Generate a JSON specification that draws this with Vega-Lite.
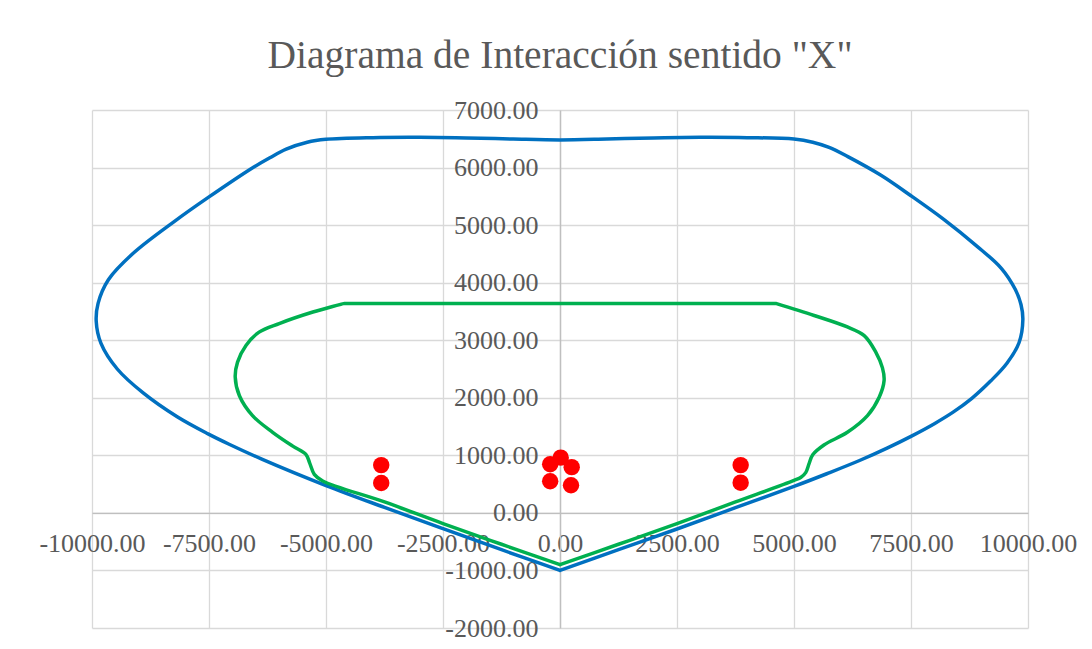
{
  "$schema": "https://vega.github.io/schema/vega-lite/v6.json",
  "width": 936,
  "height": 518,
  "autosize": {"type": "none"},
  "padding": {"left": 92, "top": 110, "right": 64, "bottom": 21},
  "background": "white",
  "title": {
    "text": "Diagrama de Interacción sentido \"X\"",
    "font": "Liberation Serif",
    "fontSize": 39.5,
    "fontWeight": "normal",
    "color": "#595959",
    "anchor": "middle",
    "baseline": "alphabetic",
    "offset": 28,
    "dy": 38
  },
  "datasets": {
    "nominal": [
      {"i": 0, "x": 0, "y": -1000},
      {"i": 1, "x": 1250, "y": -640},
      {"i": 2, "x": 2500, "y": -280},
      {"i": 3, "x": 3750, "y": 90},
      {"i": 4, "x": 5000, "y": 460},
      {"i": 5, "x": 5700, "y": 680},
      {"i": 6, "x": 6400, "y": 910},
      {"i": 7, "x": 7000, "y": 1130},
      {"i": 8, "x": 7500, "y": 1330},
      {"i": 9, "x": 8000, "y": 1550},
      {"i": 10, "x": 8400, "y": 1750},
      {"i": 11, "x": 8800, "y": 1990},
      {"i": 12, "x": 9200, "y": 2290},
      {"i": 13, "x": 9550, "y": 2600},
      {"i": 14, "x": 9810, "y": 2960},
      {"i": 15, "x": 9890, "y": 3360},
      {"i": 16, "x": 9850, "y": 3620},
      {"i": 17, "x": 9730, "y": 3880},
      {"i": 18, "x": 9430, "y": 4250},
      {"i": 19, "x": 8900, "y": 4640},
      {"i": 20, "x": 8200, "y": 5100},
      {"i": 21, "x": 7500, "y": 5510},
      {"i": 22, "x": 6850, "y": 5870},
      {"i": 23, "x": 6150, "y": 6190},
      {"i": 24, "x": 5750, "y": 6350},
      {"i": 25, "x": 5400, "y": 6440},
      {"i": 26, "x": 5000, "y": 6495},
      {"i": 27, "x": 4000, "y": 6520},
      {"i": 28, "x": 3000, "y": 6525},
      {"i": 29, "x": 2000, "y": 6515},
      {"i": 30, "x": 1000, "y": 6495},
      {"i": 31, "x": 0, "y": 6480},
      {"i": 32, "x": -1000, "y": 6495},
      {"i": 33, "x": -2000, "y": 6515},
      {"i": 34, "x": -3000, "y": 6525},
      {"i": 35, "x": -4000, "y": 6520},
      {"i": 36, "x": -5000, "y": 6490},
      {"i": 37, "x": -5400, "y": 6440},
      {"i": 38, "x": -5850, "y": 6320},
      {"i": 39, "x": -6200, "y": 6170},
      {"i": 40, "x": -6600, "y": 5980},
      {"i": 41, "x": -7500, "y": 5490},
      {"i": 42, "x": -8230, "y": 5070},
      {"i": 43, "x": -9120, "y": 4510},
      {"i": 44, "x": -9650, "y": 4050},
      {"i": 45, "x": -9870, "y": 3640},
      {"i": 46, "x": -9910, "y": 3330},
      {"i": 47, "x": -9810, "y": 2950},
      {"i": 48, "x": -9460, "y": 2500},
      {"i": 49, "x": -8900, "y": 2080},
      {"i": 50, "x": -8180, "y": 1670},
      {"i": 51, "x": -7520, "y": 1373},
      {"i": 52, "x": -7070, "y": 1193},
      {"i": 53, "x": -6360, "y": 930},
      {"i": 54, "x": -5000, "y": 475},
      {"i": 55, "x": -3750, "y": 95},
      {"i": 56, "x": -2500, "y": -275},
      {"i": 57, "x": -1250, "y": -640},
      {"i": 58, "x": 0, "y": -1000}
    ],
    "disenio": [
      {"i": 0, "x": 0, "y": -900},
      {"i": 1, "x": 1250, "y": -545},
      {"i": 2, "x": 2500, "y": -185},
      {"i": 3, "x": 3750, "y": 190},
      {"i": 4, "x": 5000, "y": 565},
      {"i": 5, "x": 5150, "y": 620},
      {"i": 6, "x": 5250, "y": 700},
      {"i": 7, "x": 5320, "y": 850},
      {"i": 8, "x": 5400, "y": 1010},
      {"i": 9, "x": 5640, "y": 1180},
      {"i": 10, "x": 6140, "y": 1400},
      {"i": 11, "x": 6570, "y": 1690},
      {"i": 12, "x": 6820, "y": 2010},
      {"i": 13, "x": 6925, "y": 2300},
      {"i": 14, "x": 6890, "y": 2520},
      {"i": 15, "x": 6750, "y": 2790},
      {"i": 16, "x": 6500, "y": 3080},
      {"i": 17, "x": 6140, "y": 3230},
      {"i": 18, "x": 5430, "y": 3430},
      {"i": 19, "x": 4610, "y": 3640},
      {"i": 20, "x": 4610, "y": 3640},
      {"i": 21, "x": 0, "y": 3640},
      {"i": 22, "x": -4610, "y": 3640},
      {"i": 23, "x": -4610, "y": 3640},
      {"i": 24, "x": -5280, "y": 3490},
      {"i": 25, "x": -6000, "y": 3290},
      {"i": 26, "x": -6430, "y": 3140},
      {"i": 27, "x": -6710, "y": 2910},
      {"i": 28, "x": -6890, "y": 2620},
      {"i": 29, "x": -6940, "y": 2360},
      {"i": 30, "x": -6850, "y": 2035},
      {"i": 31, "x": -6570, "y": 1690},
      {"i": 32, "x": -6140, "y": 1400},
      {"i": 33, "x": -5710, "y": 1160},
      {"i": 34, "x": -5430, "y": 1017},
      {"i": 35, "x": -5350, "y": 870},
      {"i": 36, "x": -5250, "y": 670},
      {"i": 37, "x": -5070, "y": 555},
      {"i": 38, "x": -3750, "y": 190},
      {"i": 39, "x": -2500, "y": -185},
      {"i": 40, "x": -1250, "y": -545},
      {"i": 41, "x": 0, "y": -900}
    ],
    "demanda": [
      {"x": -3820, "y": 830},
      {"x": -3820, "y": 520},
      {"x": -210, "y": 845},
      {"x": 15, "y": 960},
      {"x": 250, "y": 795},
      {"x": -210, "y": 550},
      {"x": 235, "y": 480},
      {"x": 3860, "y": 830},
      {"x": 3860, "y": 525}
    ]
  },
  "layer": [
    {
      "data": {"name": "nominal"},
      "mark": {"type": "line", "interpolate": "catmull-rom", "color": "#0070C0", "strokeWidth": 3.5, "strokeCap": "round", "strokeJoin": "round"},
      "encoding": {
        "x": {
          "field": "x", "type": "quantitative",
          "scale": {"domain": [-10000, 10000], "nice": false, "zero": false},
          "axis": {
            "title": null,
            "orient": "bottom",
            "offset": -115.1,
            "values": [-10000, -7500, -5000, -2500, 0, 2500, 5000, 7500, 10000],
            "labelExpr": "replace(format(datum.value, '.2f'), '−', '-')",
            "ticks": false,
            "labelPadding": 18,
            "labelFlush": false,
            "labelOverlap": false,
            "domainColor": "#bfbfbf",
            "domainWidth": 1.4,
            "grid": true,
            "gridColor": "#d9d9d9",
            "gridWidth": 1.3
          }
        },
        "y": {
          "field": "y", "type": "quantitative",
          "scale": {"domain": [-2000, 7000], "nice": false, "zero": false},
          "axis": {
            "title": null,
            "orient": "left",
            "offset": -468,
            "values": [-2000, -1000, 0, 1000, 2000, 3000, 4000, 5000, 6000, 7000],
            "labelExpr": "replace(format(datum.value, '.2f'), '−', '-')",
            "ticks": false,
            "labelPadding": 22,
            "labelFlush": false,
            "labelOverlap": false,
            "domainColor": "#bfbfbf",
            "domainWidth": 1.4,
            "grid": true,
            "gridColor": "#d9d9d9",
            "gridWidth": 1.3
          }
        },
        "order": {"field": "i", "type": "quantitative"}
      }
    },
    {
      "data": {"name": "disenio"},
      "mark": {"type": "line", "interpolate": "catmull-rom", "color": "#00B050", "strokeWidth": 3.5, "strokeCap": "round", "strokeJoin": "round"},
      "encoding": {
        "x": {"field": "x", "type": "quantitative", "scale": {"domain": [-10000, 10000], "nice": false, "zero": false}},
        "y": {"field": "y", "type": "quantitative", "scale": {"domain": [-2000, 7000], "nice": false, "zero": false}},
        "order": {"field": "i", "type": "quantitative"}
      }
    },
    {
      "data": {"name": "demanda"},
      "mark": {"type": "point", "filled": true, "color": "#FF0000", "opacity": 1, "size": 270},
      "encoding": {
        "x": {"field": "x", "type": "quantitative", "scale": {"domain": [-10000, 10000], "nice": false, "zero": false}},
        "y": {"field": "y", "type": "quantitative", "scale": {"domain": [-2000, 7000], "nice": false, "zero": false}}
      }
    }
  ],
  "config": {
    "view": {"stroke": null},
    "axis": {
      "labelFont": "Liberation Serif",
      "labelFontSize": 26,
      "labelColor": "#595959"
    }
  }
}
